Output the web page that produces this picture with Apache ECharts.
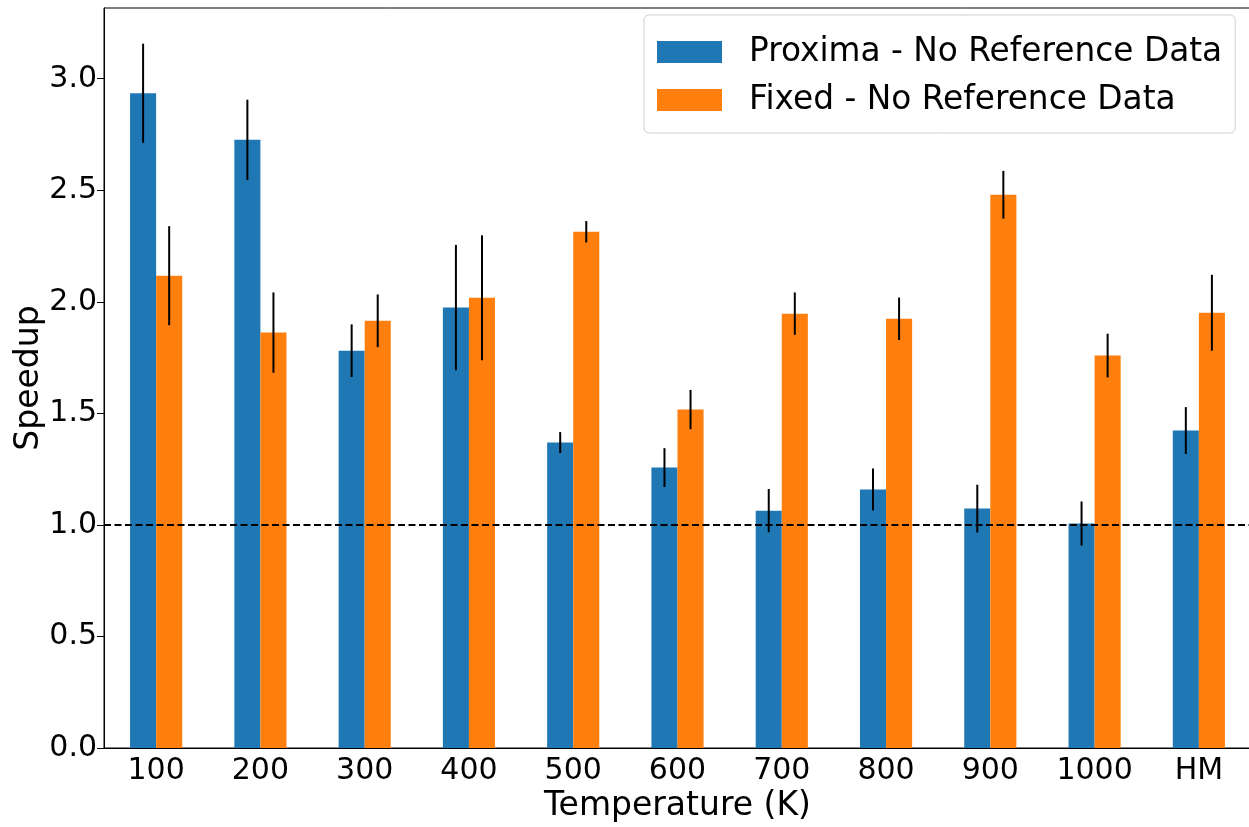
<!DOCTYPE html>
<html>
<head>
<meta charset="utf-8">
<script src="https://cdn.jsdelivr.net/npm/echarts@6/dist/echarts.min.js"></script>
<style>
  html, body { margin: 0; padding: 0; background: #fff; }
  #chart { width: 1249px; height: 827px; }
</style>
</head>
<body>
<div id="chart"></div>
<script>
// Temperatures (K) plus the harmonic-mean group
const categories = ['100', '200', '300', '400', '500', '600', '700', '800', '900', '1000', 'HM'];

// Speedup per temperature
const proximaSpeedup = [2.935, 2.726, 1.781, 1.974, 1.369, 1.257, 1.064, 1.159, 1.073, 1.006, 1.423];
const fixedSpeedup   = [2.117, 1.862, 1.915, 2.018, 2.314, 1.517, 1.947, 1.924, 2.480, 1.759, 1.951];

// Error-bar half lengths
const proximaErr = [0.222, 0.180, 0.118, 0.281, 0.047, 0.087, 0.097, 0.094, 0.107, 0.099, 0.105];
const fixedErr   = [0.222, 0.180, 0.118, 0.280, 0.048, 0.088, 0.095, 0.095, 0.107, 0.098, 0.170];

// Y-axis ticks
const yTicks = [0, 0.5, 1.0, 1.5, 2.0, 2.5, 3.0];
const baseline = 1.0;

const FONT = 'DejaVu Sans';
const BLUE = '#1f77b4';
const ORANGE = '#ff7f0e';

function errorSeries(values, errs, offsetFrac) {
  return {
    type: 'custom',
    z: 5,
    data: values.map((v, i) => [i, v, errs[i]]),
    encode: { x: 0, y: 1 },
    renderItem: function (params, api) {
      const i = api.value(0);
      const v = api.value(1);
      const e = api.value(2);
      const bw = api.size([1, 0])[0];
      const hi = api.coord([i, v + e]);
      const lo = api.coord([i, v - e]);
      const x = hi[0] + offsetFrac * bw;
      return {
        type: 'line',
        shape: { x1: x, y1: hi[1], x2: x, y2: lo[1] },
        style: { stroke: '#000', lineWidth: 2 }
      };
    }
  };
}

const chart = echarts.init(document.getElementById('chart'), null, { renderer: 'canvas' });
chart.setOption({
  animation: false,
  backgroundColor: '#fff',
  textStyle: { fontFamily: FONT },
  grid: {
    left: 104, top: 8, width: 1147, height: 740,
    outerBoundsMode: 'none',
    containLabel: false,
    show: true, borderColor: '#000', borderWidth: 1, backgroundColor: 'transparent'
  },
  legend: {
    data: ['Proxima - No Reference Data', 'Fixed - No Reference Data'],
    orient: 'vertical',
    left: 644, top: 15,
    padding: [20, 13, 16, 13],
    itemGap: 14,
    itemWidth: 65, itemHeight: 22,
    icon: 'rect',
    borderColor: '#d0d0d0', borderWidth: 1, borderRadius: 5,
    backgroundColor: 'rgba(255,255,255,0.8)',
    textStyle: { fontFamily: FONT, fontSize: 32.8, color: '#000', padding: [0, 0, 0, 22], lineHeight: 34 }
  },
  xAxis: {
    type: 'category',
    data: categories,
    name: 'Temperature (K)',
    nameLocation: 'middle',
    nameGap: 42,
    nameMoveOverlap: false,
    nameTextStyle: { fontFamily: FONT, fontSize: 33, color: '#000' },
    axisLine: { lineStyle: { color: '#000', width: 1 } },
    axisTick: { alignWithLabel: true, length: 7, lineStyle: { color: '#000', width: 1 } },
    axisLabel: { fontFamily: FONT, fontSize: 30, color: '#000', margin: 8 }
  },
  yAxis: {
    type: 'value',
    min: 0,
    max: 3.317,
    interval: 0.5,
    name: 'Speedup',
    nameLocation: 'middle',
    nameGap: 58,
    nameMoveOverlap: false,
    nameTextStyle: { fontFamily: FONT, fontSize: 33, color: '#000' },
    splitLine: { show: false },
    axisLine: { show: true, lineStyle: { color: '#000', width: 1 } },
    axisTick: { show: true, length: 7, customValues: yTicks, lineStyle: { color: '#000', width: 1 } },
    axisLabel: {
      fontFamily: FONT, fontSize: 30, color: '#000', margin: 7,
      customValues: yTicks,
      formatter: v => v.toFixed(1)
    }
  },
  series: [
    {
      name: 'Proxima - No Reference Data',
      type: 'bar',
      data: proximaSpeedup,
      barWidth: '25%',
      barGap: '0%',
      itemStyle: { color: BLUE },
      z: 2
    },
    {
      name: 'Fixed - No Reference Data',
      type: 'bar',
      data: fixedSpeedup,
      barWidth: '25%',
      barGap: '0%',
      itemStyle: { color: ORANGE },
      z: 2,
      markLine: {
        silent: true,
        symbol: 'none',
        label: { show: false },
        lineStyle: { color: '#000', width: 2, type: [7, 3.5] },
        data: [{ yAxis: baseline }],
        z: 6
      }
    },
    errorSeries(proximaSpeedup, proximaErr, -0.125),
    errorSeries(fixedSpeedup, fixedErr, 0.125)
  ]
});
</script>
</body>
</html>
